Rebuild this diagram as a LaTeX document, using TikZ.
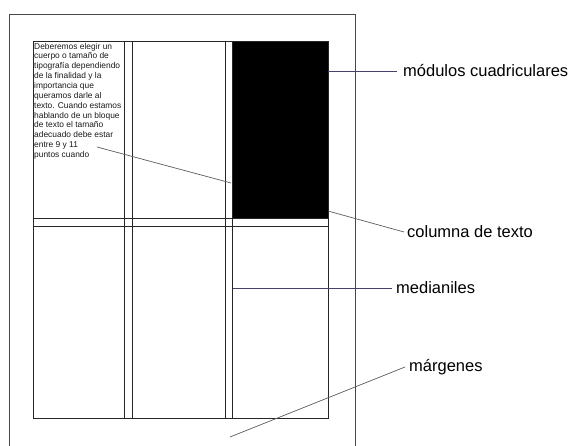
\documentclass[tikz,border=0pt]{standalone}
\usepackage{fontspec}
\setmainfont{Liberation Sans}
\definecolor{leadblue}{rgb}{0.26,0.26,0.42}
\definecolor{leadgray}{rgb}{0.36,0.36,0.38}
\definecolor{gridline}{rgb}{0.15,0.15,0.15}
\begin{document}
\begin{tikzpicture}[x=1pt,y=-1pt,
  gridl/.style={draw=gridline,line width=1pt},
  pagel/.style={draw=gridline!85,line width=0.9pt},
  leadh/.style={draw=leadblue,line width=0.7pt},
  leadd/.style={draw=leadgray,line width=0.7pt},
  lbl/.style={anchor=west,inner sep=0pt,font=\fontsize{16.5}{19}\selectfont,text=black},
  body/.style={anchor=north west,inner sep=0pt,align=left,font=\fontsize{8.4}{9.85}\selectfont,text=black!90}]
\useasboundingbox (0,0) rectangle (570,446);
% page
\draw[pagel] (9,446) -- (9,14) -- (355,14) -- (355,446);
% black module
\fill[black] (232.3,42) rectangle (328,218.3);
% grid
\draw[gridl] (33,42) rectangle (328,418);
\foreach \xx in {124.5,132,225.5,232.3}{\draw[gridl] (\xx,42) -- (\xx,418);}
\foreach \yy in {218.3,226.5}{\draw[gridl] (33,\yy) -- (328,\yy);}
% text block
\node[body] (txt) at (34,42.8) {Deberemos elegir un\\cuerpo o tamaño de\\tipografía dependiendo\\de la finalidad y la\\importancia que\\queramos darle al\\texto. Cuando estamos\\hablando de un bloque\\de texto el tamaño\\adecuado debe estar\\entre 9 y 11\\puntos cuando};
% labels
\node[lbl] (mod) at (403,71) {módulos cuadriculares};
\node[lbl] (col) at (407,232) {columna de texto};
\node[lbl] (med) at (396,288) {medianiles};
\node[lbl] (mar) at (409,367) {márgenes};
% leader end points
\coordinate (pmod) at (328,71);
\coordinate (pcol) at (328,211);
\coordinate (pmed) at (233,288);
\coordinate (pmar) at (230,437);
\coordinate (ptxa) at (97,147);
\coordinate (ptxb) at (231,183);
\draw[leadh] (pmod) -- ([xshift=-6pt]mod.west);
\draw[leadd] (pcol) -- ([xshift=-3pt]col.west);
\draw[leadh] (pmed) -- ([xshift=-4pt]med.west);
\draw[leadd] (pmar) -- ([xshift=-4pt]mar.west);
\draw[leadd] (ptxa) -- (ptxb);
\end{tikzpicture}
\end{document}
